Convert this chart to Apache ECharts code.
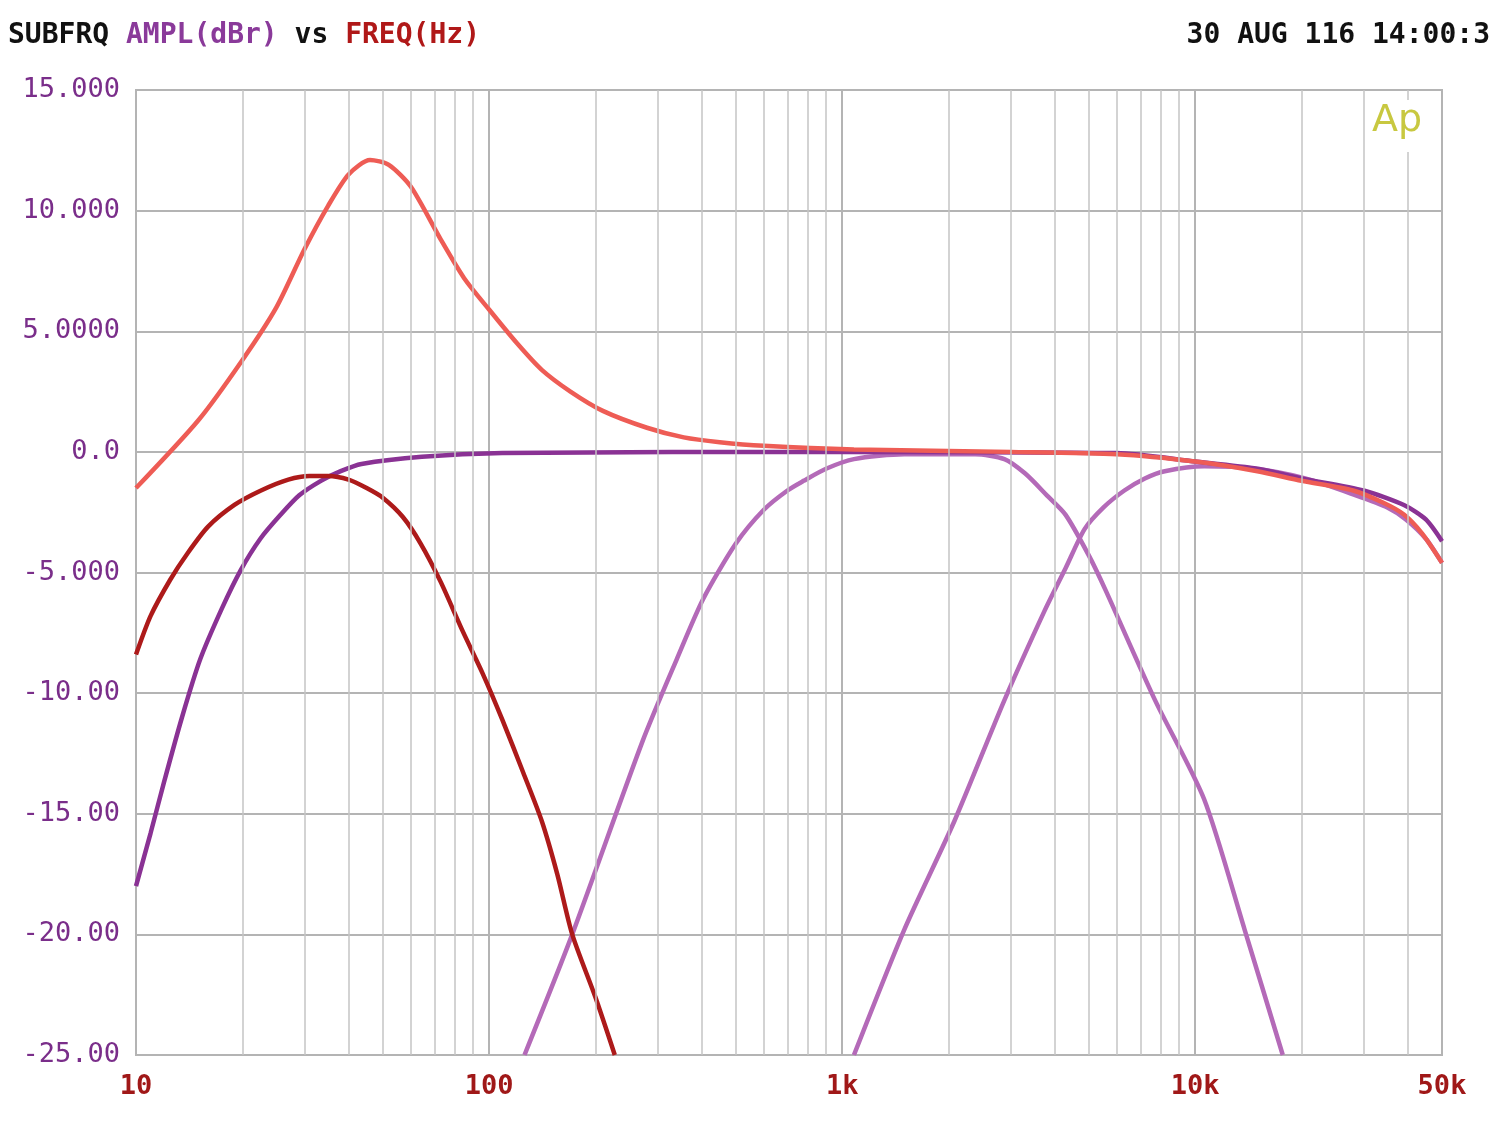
<!DOCTYPE html>
<html><head><meta charset="utf-8">
<script src="https://cdn.jsdelivr.net/npm/echarts@6/dist/echarts.min.js"></script>
<style>html,body{margin:0;background:#fff}#c{width:1500px;height:1125px}</style>
</head><body><div id="c"></div>
<script>
// [freq Hz, dBr]
var redPeak = [[10,-1.5],[15,1.3],[20,3.8],[25,6.0],[30,8.4],[35,10.2],[40,11.5],[46,12.1],[52,11.9],[60,11.0],[73,8.8],[85,7.2],[100,5.9],[120,4.5],[141,3.4],[170,2.5],[210,1.7],[280,1.0],[356,0.6],[450,0.4],[600,0.25],[1080,0.1],[3000,0.0],[6000,-0.1],[10000,-0.4],[15000,-0.8],[20000,-1.2],[28000,-1.6],[34000,-2.1],[39000,-2.6],[44000,-3.4],[50000,-4.6]];
var lowPass = [[10,-8.4],[11,-6.8],[12.5,-5.3],[14,-4.2],[16,-3.1],[19,-2.2],[22.6,-1.6],[27,-1.15],[31,-1.0],[35,-1.0],[40,-1.15],[45,-1.5],[50,-1.9],[57,-2.7],[64,-3.8],[73,-5.4],[84,-7.4],[96,-9.2],[109,-11.1],[125,-13.3],[141,-15.3],[156,-17.5],[172,-20],[200,-22.6],[227,-25]];
var highPass = [[10,-18],[11,-15.8],[12,-13.7],[13.5,-11],[15.2,-8.6],[17.5,-6.5],[19.8,-4.9],[22.5,-3.6],[25.7,-2.6],[29,-1.8],[33.4,-1.2],[38,-0.8],[43.5,-0.5],[64.5,-0.2],[109,-0.05],[1000,0],[6000,-0.05],[10000,-0.4],[15000,-0.7],[20000,-1.1],[30000,-1.6],[39000,-2.2],[45000,-2.8],[50000,-3.7]];
var band1 = [[126,-25],[172,-20],[272,-12],[340,-8.6],[404,-6.1],[500,-3.8],[600,-2.4],[700,-1.6],[778,-1.2],[900,-0.7],[1080,-0.3],[1500,-0.1],[2380,-0.1],[2880,-0.3],[3300,-0.9],[3800,-1.8],[4290,-2.6],[5000,-4.3],[5560,-5.7],[7700,-10.3],[10600,-14.4],[13800,-19.8],[17700,-25]];
var band2 = [[1080,-25],[1500,-19.8],[2080,-15.3],[2880,-10.3],[3740,-6.6],[4300,-4.8],[4860,-3.2],[5500,-2.3],[6300,-1.6],[7200,-1.1],[8200,-0.8],[10600,-0.6],[14800,-0.7],[20500,-1.1],[28500,-1.8],[35000,-2.3],[39500,-2.8],[45000,-3.6],[50000,-4.6]];
var yLabels = {'15':'15.000','10':'10.000','5':'5.0000','0':'0.0','-5':'-5.000','-10':'-10.00','-15':'-15.00','-20':'-20.00','-25':'-25.00'};
var xLabels = {'10':'10','100':'100','1000':'1k','10000':'10k','50000':'50k'};
var minorX = [20,30,40,50,60,70,80,90,200,300,400,500,600,700,800,900,2000,3000,4000,5000,6000,7000,8000,9000,20000,30000,40000];

var mono = 'DejaVu Sans Mono';
function line(data, color) {
  return {type:'line', data:data, smooth:0.25, symbol:'none', lineStyle:{color:color, width:4.5}, z:3};
}
var chart = echarts.init(document.getElementById('c'));
chart.setOption({
  animation:false,
  grid:{left:136, right:58, top:90, bottom:70},
  xAxis:{type:'log', logBase:10, min:10, max:50000,
    axisLine:{show:false}, axisTick:{show:false},
    splitLine:{show:true, lineStyle:{color:'#b4b4b4', width:2}},
    axisLabel:{showMaxLabel:true, margin:18, color:'#a01818', fontFamily:mono, fontWeight:'bold', fontSize:27,
      formatter:function(v){return xLabels[String(Math.round(v))]||'';}}},
  yAxis:{type:'value', min:-25, max:15, interval:5,
    axisLine:{show:false}, axisTick:{show:false},
    splitLine:{lineStyle:{color:'#b4b4b4', width:2}},
    axisLabel:{margin:16, color:'#7a2e8a', fontFamily:mono, fontSize:27,
      formatter:function(v){return yLabels[String(v)];}}},
  graphic:[
    {type:'rect', shape:{x:136,y:90,width:1306,height:965}, style:{fill:'none', stroke:'#b4b4b4', lineWidth:2}, z:1},
    {type:'text', left:8, top:22, style:{fontFamily:mono, fontWeight:'bold', fontSize:28,
      text:'{a|SUBFRQ} {b|AMPL(dBr)} {a|vs} {c|FREQ(Hz)}',
      rich:{a:{fill:'#111',fontFamily:mono,fontSize:28,fontWeight:'bold'},b:{fill:'#8a3a9a',fontFamily:mono,fontSize:28,fontWeight:'bold'},c:{fill:'#b01818',fontFamily:mono,fontSize:28,fontWeight:'bold'}}}},
    {type:'text', right:10, top:22, style:{text:'30 AUG 116 14:00:3', fill:'#111', fontFamily:mono, fontWeight:'bold', fontSize:28}},
    {type:'text', left:1368, top:100, z:10, style:{text:'Ap', fill:'#c8c840', fontFamily:'DejaVu Sans', fontSize:38, backgroundColor:'#fff', padding:[2,4,12,4]}}
  ],
  series:[
    {type:'line', data:[], markLine:{silent:true, symbol:'none', label:{show:false},
      lineStyle:{color:'#c4c4c4', width:1.5, type:'solid'},
      data:minorX.map(function(f){return {xAxis:f};})}},
    line(band2, '#b46ab8'),
    line(band1, '#b46ab8'),
    line(highPass, '#8a3294'),
    line(lowPass, '#ad1a1a'),
    line(redPeak, '#ee5c55')
  ]
});
</script></body></html>
